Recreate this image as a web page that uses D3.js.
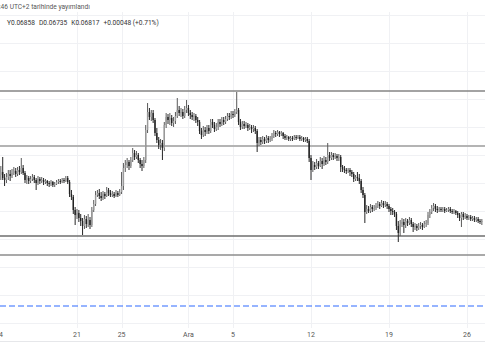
<!DOCTYPE html>
<html><head><meta charset="utf-8">
<script src="https://cdn.jsdelivr.net/npm/d3@7"></script>
<style>html,body{margin:0;padding:0;background:#fff;overflow:hidden}</style>
</head><body>
<svg id="chart" width="485" height="360"></svg>
<script>
// 4-hour candles, first one opens 14 Nov 2022 00:00 UTC; prices in units of 0.00001
const firstCandle = Date.UTC(2022, 10, 14, 0, 0);
const candleHours = 4;
const priceUnit = 1e-5;

const open5 = [
6870,6863,6866,6860,6858,6861,6864,6862,6865,6867,
6864,6868,6866,6870,6865,6858,6860,6857,6859,6861,
6858,6855,6859,6857,6858,6856,6857,6855,6854,6856,
6853,6854,6856,6857,6856,6858,6857,6860,6856,6844,
6841,6828,6823,6825,6820,6817,6812,6819,6814,6818,
6813,6828,6834,6843,6845,6842,6840,6844,6842,6848,
6845,6843,6844,6842,6845,6843,6846,6852,6870,6873,
6876,6872,6878,6885,6881,6883,6878,6874,6872,6878,
6908,6926,6921,6925,6918,6905,6898,6893,6895,6890,
6913,6921,6918,6920,6915,6917,6922,6928,6925,6926,
6922,6928,6930,6925,6923,6921,6922,6918,6916,6907,
6903,6908,6906,6910,6907,6916,6913,6909,6911,6916,
6914,6918,6916,6919,6922,6921,6924,6923,6926,6928,
6916,6911,6914,6912,6913,6910,6911,6909,6910,6907,
6895,6898,6896,6899,6897,6900,6898,6899,6902,6905,
6904,6906,6904,6905,6902,6900,6901,6899,6900,6899,
6901,6900,6901,6899,6900,6898,6899,6897,6880,6868,
6873,6871,6875,6872,6877,6874,6878,6876,6883,6880,
6883,6881,6882,6880,6881,6871,6869,6868,6867,6868,
6866,6864,6859,6861,6860,6857,6848,6843,6826,6829,
6827,6831,6829,6830,6832,6834,6832,6835,6833,6834,
6832,6829,6827,6826,6824,6812,6805,6814,6816,6813,
6817,6815,6818,6814,6811,6812,6810,6812,6813,6811,
6814,6815,6823,6826,6830,6832,6829,6828,6829,6828,
6829,6827,6828,6829,6827,6826,6827,6825,6823,6820,
6824,6821,6822,6820,6821,6819,6820,6818,6819,6817,
6816];
const high5 = [
6875,6872,6881,6864,6865,6868,6868,6869,6871,6870,
6871,6872,6880,6873,6867,6863,6862,6862,6864,6863,
6860,6862,6861,6861,6860,6859,6858,6857,6858,6857,
6856,6858,6859,6859,6860,6860,6862,6862,6858,6848,
6843,6831,6829,6828,6824,6820,6823,6822,6824,6821,
6831,6838,6847,6848,6849,6846,6847,6846,6851,6850,
6848,6847,6846,6848,6847,6849,6866,6875,6878,6880,
6878,6881,6890,6888,6887,6885,6880,6878,6881,6913,
6935,6930,6928,6928,6920,6910,6901,6899,6898,6916,
6925,6924,6925,6923,6921,6926,6940,6932,6930,6929,
6932,6938,6933,6928,6926,6925,6924,6921,6918,6910,
6912,6911,6913,6913,6919,6919,6916,6915,6919,6919,
6921,6921,6922,6925,6925,6927,6927,6929,6946,6930,
6919,6917,6917,6916,6915,6914,6913,6913,6912,6909,
6901,6901,6902,6901,6903,6902,6902,6905,6908,6907,
6908,6907,6907,6906,6904,6903,6902,6902,6902,6903,
6903,6903,6903,6902,6901,6901,6901,6899,6883,6877,
6876,6879,6877,6881,6880,6882,6881,6895,6886,6886,
6885,6885,6884,6884,6883,6873,6872,6870,6870,6870,
6868,6866,6863,6866,6864,6859,6851,6845,6833,6832,
6834,6833,6833,6835,6837,6836,6838,6837,6837,6836,
6834,6831,6830,6828,6826,6817,6818,6820,6819,6820,
6819,6821,6820,6816,6815,6814,6815,6816,6815,6817,
6818,6826,6829,6833,6835,6834,6832,6831,6831,6831,
6831,6830,6831,6831,6829,6829,6828,6827,6825,6826,
6826,6825,6824,6823,6823,6822,6822,6821,6821,6819,
6819];
const low5 = [
6841,6858,6858,6852,6855,6858,6857,6860,6863,6861,
6862,6863,6864,6863,6855,6854,6854,6855,6857,6855,
6848,6853,6854,6855,6853,6854,6852,6851,6852,6851,
6851,6853,6854,6854,6855,6855,6856,6854,6841,6838,
6824,6813,6819,6816,6812,6803,6809,6810,6811,6809,
6811,6826,6832,6841,6839,6837,6838,6839,6841,6842,
6841,6841,6840,6841,6841,6842,6844,6848,6866,6870,
6868,6870,6876,6878,6879,6875,6870,6867,6870,6875,
6905,6918,6917,6915,6902,6895,6889,6888,6878,6887,
6910,6914,6913,6912,6911,6914,6920,6922,6921,6919,
6920,6925,6922,6919,6918,6917,6915,6912,6904,6899,
6901,6902,6904,6904,6905,6910,6906,6907,6908,6911,
6912,6913,6914,6917,6918,6919,6920,6921,6924,6913,
6908,6909,6909,6910,6907,6908,6905,6906,6904,6886,
6892,6893,6894,6894,6895,6895,6896,6897,6900,6901,
6902,6901,6902,6899,6898,6898,6897,6897,6897,6898,
6898,6899,6897,6897,6896,6896,6895,6876,6858,6866,
6868,6869,6869,6871,6869,6872,6873,6874,6877,6878,
6878,6879,6877,6877,6866,6866,6865,6864,6865,6862,
6861,6856,6857,6857,6854,6845,6840,6815,6824,6825,
6825,6826,6827,6828,6830,6829,6831,6830,6831,6829,
6826,6823,6823,6821,6808,6796,6802,6811,6805,6810,
6812,6813,6811,6806,6808,6807,6808,6809,6808,6810,
6811,6813,6820,6824,6827,6826,6825,6826,6826,6826,
6825,6826,6826,6825,6824,6824,6823,6820,6817,6811,
6818,6819,6818,6818,6817,6817,6816,6816,6815,6814,
6813];
const close5 = [
6863,6866,6860,6858,6861,6864,6862,6865,6867,6864,
6868,6866,6870,6865,6858,6860,6857,6859,6861,6858,
6855,6859,6857,6858,6856,6857,6855,6854,6856,6853,
6854,6856,6857,6856,6858,6857,6860,6856,6844,6841,
6828,6823,6825,6820,6817,6812,6819,6814,6818,6813,
6828,6834,6843,6845,6842,6840,6844,6842,6848,6845,
6843,6844,6842,6845,6843,6846,6852,6870,6873,6876,
6872,6878,6885,6881,6883,6878,6874,6872,6878,6908,
6926,6921,6925,6918,6905,6898,6893,6895,6890,6913,
6921,6918,6920,6915,6917,6922,6928,6925,6926,6922,
6928,6930,6925,6923,6921,6922,6918,6916,6907,6903,
6908,6906,6910,6907,6916,6913,6909,6911,6916,6914,
6918,6916,6919,6922,6921,6924,6923,6926,6928,6916,
6911,6914,6912,6913,6910,6911,6909,6910,6907,6895,
6898,6896,6899,6897,6900,6898,6899,6902,6905,6904,
6906,6904,6905,6902,6900,6901,6899,6900,6899,6901,
6900,6901,6899,6900,6898,6899,6897,6880,6868,6873,
6871,6875,6872,6877,6874,6878,6876,6883,6880,6883,
6881,6882,6880,6881,6871,6869,6868,6867,6868,6866,
6864,6859,6861,6860,6857,6848,6843,6826,6829,6827,
6831,6829,6830,6832,6834,6832,6835,6833,6834,6832,
6829,6827,6826,6824,6812,6805,6814,6816,6813,6817,
6815,6818,6814,6811,6812,6810,6812,6813,6811,6814,
6815,6823,6826,6830,6832,6829,6828,6829,6828,6829,
6827,6828,6829,6827,6826,6827,6825,6823,6820,6824,
6821,6822,6820,6821,6819,6820,6818,6819,6817,6816,
6817];

// time axis
const tickDates = ["2022-11-14","2022-11-21","2022-11-25","2022-12-01","2022-12-05","2022-12-12","2022-12-19","2022-12-26"];
const tickLabels = ["14","21","25","Ara","5","12","19","26"];

// horizontal price levels
const gridLevels = [0.06715,0.06743,0.06771,0.06799,0.06827,0.06855,0.06883,0.06911,0.06939,0.06967,0.06995,0.07023];
const levelLines = [0.06947, 0.06892, 0.06802, 0.06783];
const alertLevel = 0.06732;

// header texts
const headerText = ":46 UTC+2 tarihinde yayımlandı";
const legendKeys = ["Y","D","K"];
const legendValues = ["0.06858","0.06735","0.06817"];
const legendChange = "+0.00048 (+0.71%)";

const candles = close5.map((c, i) => ({
  t: new Date(firstCandle + i * candleHours * 3600e3),
  o: open5[i] * priceUnit, h: high5[i] * priceUnit,
  l: low5[i] * priceUnit, c: c * priceUnit
}));

const W = 485, H = 360;
const svg = d3.select("#chart");
const font = "Roboto, 'Noto Sans', sans-serif";

const x = d3.scaleUtc()
  .domain([new Date(Date.UTC(2022,10,21)), new Date(Date.UTC(2022,11,26))])
  .range([77, 467]);
const y = d3.scaleLinear().domain([0.06697, 0.07026]).range([341, 12]);

const paneTop = 12, paneBottom = 328;

// vertical grid
svg.append("g").selectAll("line").data(tickDates).join("line")
  .attr("x1", d => Math.round(x(new Date(d))) + 0.5)
  .attr("x2", d => Math.round(x(new Date(d))) + 0.5)
  .attr("y1", paneTop).attr("y2", paneBottom)
  .attr("stroke", "#f0f1f4").attr("stroke-width", 1);

// horizontal grid
svg.append("g").selectAll("line").data(gridLevels).join("line")
  .attr("x1", 0).attr("x2", W)
  .attr("y1", d => Math.round(y(d)) + 0.5).attr("y2", d => Math.round(y(d)) + 0.5)
  .attr("stroke", "#f0f1f4").attr("stroke-width", 1);

// time axis border
svg.append("line").attr("x1", 0).attr("x2", W).attr("y1", 341.5).attr("y2", 341.5)
  .attr("stroke", "#e6e7ea").attr("stroke-width", 1);

// alert dashed line
svg.append("line").attr("x1", 0).attr("x2", W)
  .attr("y1", y(alertLevel)).attr("y2", y(alertLevel))
  .attr("stroke", "#2f6bff").attr("stroke-width", 1.2).attr("stroke-dasharray", "6,3");

// level lines
const levelStyle = [
  {c: "#858585", w: 1.3},
  {c: "#b4b4b4", w: 2},
  {c: "#6e6e6e", w: 1.3},
  {c: "#8c8c8c", w: 1.3}
];
svg.append("g").selectAll("line").data(levelLines).join("line")
  .attr("x1", 0).attr("x2", W)
  .attr("y1", d => y(d)).attr("y2", d => y(d))
  .attr("stroke", (d, i) => levelStyle[i].c).attr("stroke-width", (d, i) => levelStyle[i].w);

// candles
const bw = 1.4;
const g = svg.append("g");
const cg = g.selectAll("g").data(candles).join("g");
cg.append("line")
  .attr("x1", d => x(d.t)).attr("x2", d => x(d.t))
  .attr("y1", d => y(d.h)).attr("y2", d => y(d.l))
  .attr("stroke", d => d.c >= d.o ? "#5a5a5a" : "#262626").attr("stroke-width", 1);
cg.append("rect")
  .attr("x", d => x(d.t) - bw / 2).attr("width", bw)
  .attr("y", d => y(Math.max(d.o, d.c)))
  .attr("height", d => Math.max(1, Math.abs(y(d.o) - y(d.c))))
  .attr("fill", d => d.c >= d.o ? "#9a9a9a" : "#222");

// axis labels
svg.append("g").selectAll("text").data(tickDates).join("text")
  .attr("x", d => x(new Date(d))).attr("y", 336.5)
  .attr("text-anchor", "middle")
  .attr("font-family", font).attr("font-size", 7).attr("fill", "#555")
  .text((d, i) => tickLabels[i]);

// header
svg.append("text").attr("x", -1).attr("y", 9)
  .attr("font-family", font).attr("font-size", 6.6).attr("fill", "#555")
  .text(headerText);

const lg = svg.append("text").attr("x", 7).attr("y", 24.5)
  .attr("font-family", font).attr("font-size", 6.6).attr("fill", "#333");
legendKeys.forEach((k, i) => {
  lg.append("tspan").attr("dx", i ? 4 : 0).attr("fill", "#333").text(k);
  lg.append("tspan").attr("fill", "#333").text(legendValues[i]);
});
lg.append("tspan").attr("dx", 4).attr("fill", "#333").text(legendChange);
</script>
</body></html>
